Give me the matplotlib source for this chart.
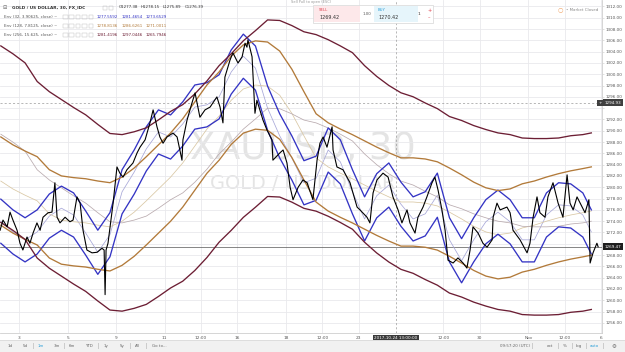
import numpy as np
import matplotlib
matplotlib.use("Agg")
import matplotlib.pyplot as plt
from matplotlib.patches import Rectangle
from matplotlib.transforms import blended_transform_factory

# x axis = trading days counted from Mon 2 Oct 2017 (weekends skipped)
price_days = [0.22, 0.34, 0.51, 0.63, 0.75, 0.92, 1.04, 1.16, 1.33, 1.45,
              1.58, 1.74, 1.87, 1.99, 2.20, 2.36, 2.48, 2.57, 2.69, 2.90,
              3.10, 3.23, 3.39, 3.52, 3.64, 3.80, 4.01, 4.22, 4.42, 4.51,
              4.55, 4.59, 4.67, 4.88, 5.04, 5.16, 5.29, 5.45, 5.70, 5.87,
              5.99, 6.20, 6.40, 6.53, 6.69, 6.81, 6.94, 7.10, 7.35, 7.52,
              7.72, 7.76, 7.93, 8.13, 8.26, 8.46, 8.67, 8.88, 9.16, 9.29,
              9.41, 9.49, 9.70, 9.82, 10.03, 10.20, 10.32, 10.40, 10.44, 10.61,
              10.73, 10.81, 11.06, 11.23, 11.43, 11.47, 11.76, 11.89, 12.05, 12.18,
              12.30, 12.51, 12.71, 12.88, 13.12, 13.29, 13.41, 13.54, 13.70, 13.91,
              13.95, 14.11, 14.36, 14.65, 14.94, 15.06, 15.35, 15.47, 15.60, 15.76,
              16.01, 16.22, 16.42, 16.63, 16.79, 17.00, 17.12, 17.33, 17.45, 17.66,
              17.82, 18.03, 18.15, 18.28, 18.44, 18.57, 18.69, 18.90, 19.10, 19.31,
              19.47, 19.60, 19.72, 19.93, 20.13, 20.30, 20.51, 20.55, 20.71, 20.84,
              21.12, 21.25, 21.37, 21.66, 21.95, 22.07, 22.20, 22.36, 22.48, 22.69,
              22.81, 23.02, 23.23, 23.43, 23.60, 23.72, 23.85, 24.01, 24.22, 24.34,
              24.50, 24.55, 24.67, 24.83, 24.88]
price = [1272.4, 1274.2, 1273.0, 1275.6, 1274.2, 1272.4, 1270.1, 1268.9, 1271.2, 1270.1,
         1271.9, 1273.7, 1272.4, 1274.7, 1275.5, 1275.6, 1280.8, 1274.7, 1273.7, 1274.7,
         1273.9, 1274.2, 1278.3, 1277.2, 1272.4, 1268.9, 1268.4, 1268.5, 1269.2, 1268.9,
         1261.0, 1268.9, 1270.1, 1277.2, 1283.6, 1282.5, 1281.8, 1283.1, 1284.3, 1286.1,
         1287.1, 1288.4, 1291.4, 1293.7, 1290.7, 1288.9, 1287.8, 1288.9, 1289.6, 1288.9,
         1284.8, 1288.4, 1291.9, 1294.9, 1296.7, 1292.4, 1293.7, 1294.2, 1296.0, 1294.2,
         1291.4, 1299.5, 1302.5, 1303.8, 1302.0, 1303.1, 1305.5, 1304.8, 1306.1, 1303.1,
         1293.1, 1295.4, 1291.9, 1290.1, 1288.4, 1284.8, 1286.1, 1286.6, 1284.3, 1280.0,
         1277.8, 1280.0, 1281.3, 1280.8, 1277.8, 1284.8, 1287.8, 1288.9, 1287.1, 1290.7,
         1286.6, 1283.6, 1283.1, 1280.8, 1276.5, 1276.0, 1274.7, 1273.7, 1279.0, 1281.3,
         1282.5, 1281.8, 1278.3, 1276.0, 1273.7, 1276.0, 1273.7, 1271.9, 1274.7, 1276.5,
         1278.3, 1280.8, 1281.8, 1279.5, 1276.0, 1272.4, 1267.1, 1266.6, 1267.5, 1266.6,
         1265.7, 1268.9, 1273.0, 1271.9, 1270.1, 1269.4, 1270.7, 1274.7, 1277.2, 1276.0,
         1276.5, 1275.5, 1272.4, 1270.7, 1268.4, 1270.1, 1274.7, 1278.3, 1275.5, 1274.7,
         1278.3, 1280.8, 1277.2, 1274.7, 1282.2, 1277.2, 1276.0, 1278.3, 1276.5, 1275.5,
         1277.8, 1266.6, 1268.4, 1270.1, 1269.47]

# envelope centre lines (EMA of close), read every half day
band_days = np.append(np.arange(0.25, 24.5, 0.5), 24.6)
ema32 = [1274.0, 1272.1, 1270.7, 1272.1, 1274.9, 1276.3, 1275.1, 1271.9, 1268.5, 1271.6,
         1279.2, 1282.7, 1286.8, 1289.8, 1288.9, 1291.2, 1294.2, 1294.6, 1296.0, 1300.4,
         1303.2, 1301.1, 1294.0, 1289.1, 1285.2, 1280.8, 1281.6, 1286.6, 1284.5, 1279.2,
         1274.4, 1278.5, 1280.4, 1277.0, 1274.4, 1275.3, 1278.6, 1270.7, 1267.0, 1270.7,
         1273.9, 1275.6, 1273.9, 1270.7, 1270.7, 1275.1, 1276.9, 1276.7, 1275.1, 1272.1]
ema128 = [1281.1, 1279.7, 1278.6, 1277.6, 1275.3, 1274.2, 1273.9, 1273.7, 1273.3, 1273.0,
          1274.0, 1275.6, 1277.6, 1279.7, 1281.8, 1284.3, 1287.3, 1290.3, 1292.6, 1295.4,
          1297.4, 1298.1, 1297.9, 1296.3, 1293.1, 1289.1, 1285.2, 1283.6, 1282.5, 1281.5,
          1280.4, 1279.3, 1278.3, 1277.4, 1277.4, 1277.2, 1276.7, 1275.6, 1274.4, 1273.1,
          1272.1, 1271.6, 1271.9, 1272.8, 1273.3, 1274.0, 1274.6, 1275.1, 1275.5, 1275.8]
ema256 = [1289.4, 1288.0, 1286.4, 1283.1, 1281.3, 1279.9, 1278.5, 1277.2, 1275.5, 1273.9,
          1273.7, 1274.2, 1274.9, 1276.3, 1277.8, 1279.0, 1280.9, 1283.2, 1285.9, 1288.0,
          1290.3, 1292.1, 1294.0, 1293.9, 1293.0, 1291.9, 1291.4, 1290.5, 1289.4, 1288.2,
          1285.9, 1284.0, 1282.4, 1281.1, 1280.4, 1279.3, 1278.3, 1276.9, 1276.2, 1275.3,
          1274.6, 1274.0, 1273.7, 1273.1, 1273.0, 1273.0, 1273.1, 1273.5, 1273.7, 1274.0]
env_offsets = [3.90625, 7.8125, 15.625]

time_ticks = [1, 3, 5, 7, 8.5, 10, 12, 13.5, 15, 18.5, 20, 22, 23.5, 25]
time_labels = ["3", "5", "9", "11", "12:00", "16", "18", "12:00", "23",
               "12:00", "30", "Nov", "12:00", "6"]
price_ticks = np.arange(1256, 1313, 2)
hidden_ticks = [1270, 1294]   # covered by the price tags

cross_day, cross_label, cross_price = 16.54, "2017-10-24 13:00:00", 1294.93
last_price = 1269.47

legend_rows = ["Env (32, 3.90625, close)", "Env (128, 7.8125, close)", "Env (256, 15.625, close)"]
legend_vals = [["1277.5592", "1281.4654", "1273.6529"],
               ["1278.8136", "1286.6261", "1271.0011"],
               ["1281.4196", "1297.0446", "1265.7946"]]
ohlc = ["O1277.38", "H1278.15", "L1275.89", "C1276.39"]

BLUE, BROWN, MAROON = "#3434c4", "#b27a3a", "#6c1e34"
CENTRE = ["#a7a7d8", "#d9c7a3", "#b9aaae"]

W, H = 625, 352
fig = plt.figure(figsize=(W / 100, H / 100), dpi=100)
ax = fig.add_axes([0, 1 - 333 / H, 602 / W, 333 / H])
ax.set_xlim(0.2165, 25.04)
ax.set_ylim(1254.21, 1313.15)

# grid
ax.set_yticks(price_ticks)
ax.set_yticklabels(["" if v in hidden_ticks else f"{v:.2f}" for v in price_ticks])
ax.set_xticks(time_ticks)
ax.set_xticklabels(time_labels)
ax.grid(color="#e9e9ec", lw=0.6)
ax.set_axisbelow(True)
ax.yaxis.tick_right()
ax.tick_params(axis="y", length=1.5, width=0.4, color="#c8c8c8", labelsize=3.0,
               labelcolor="#555555", pad=1.2)
ax.tick_params(axis="x", length=0, labelsize=3.1, labelcolor="#555555", pad=2.5)
for s in ["top", "left"]:
    ax.spines[s].set_visible(False)
ax.spines["right"].set_color("#cfcfcf")
ax.spines["bottom"].set_color("#cfcfcf")
ax.spines["right"].set_linewidth(0.6)
ax.spines["bottom"].set_linewidth(0.6)

# watermark
ax.text(0.503, 0.555, "XAUUSD, 30", transform=ax.transAxes, fontsize=26.5,
        color="#e4e4e4", ha="center", va="center", zorder=0)
ax.text(0.502, 0.45, "GOLD / US DOLLAR", transform=ax.transAxes, fontsize=13.9,
        color="#e4e4e4", ha="center", va="center", zorder=0)

# envelopes
for centre, off, col, ccol in zip([ema32, ema128, ema256], env_offsets,
                                  [BLUE, BROWN, MAROON], CENTRE):
    c = np.array(centre)
    ax.plot(band_days, c, color=ccol, lw=0.55, zorder=2)
    ax.plot(band_days, c + off, color=col, lw=0.95, zorder=3)
    ax.plot(band_days, c - off, color=col, lw=0.95, zorder=3)

ax.plot(price_days, price, color="black", lw=0.8, zorder=4)

# last price and crosshair
ax.axhline(last_price, color="#555555", lw=0.5, zorder=1)
ax.axhline(cross_price, color="#9a9a9a", lw=0.5, ls=(0, (3, 3)), zorder=1)
ax.axvline(cross_day, color="#9a9a9a", lw=0.5, ls=(0, (3, 3)), zorder=1)
tr = blended_transform_factory(ax.transAxes, ax.transData)
ax.text(0.9945, cross_price, "+", transform=tr, fontsize=3.0, color="white",
        va="center", ha="left", zorder=6,
        bbox=dict(boxstyle="square,pad=0.3", fc="#3f3f3f", ec="none"), clip_on=False)
ax.text(1.004, cross_price, f"{cross_price:.2f}", transform=tr, fontsize=3.0,
        color="white", va="center", ha="left", zorder=6,
        bbox=dict(boxstyle="square,pad=0.35", fc="#3f3f3f", ec="none"), clip_on=False)
ax.text(1.004, last_price, f"{last_price:.2f}", transform=tr, fontsize=3.0,
        color="white", va="center", ha="left", zorder=6,
        bbox=dict(boxstyle="square,pad=0.35", fc="#1e1e1e", ec="none"), clip_on=False)
trx = blended_transform_factory(ax.transData, ax.transAxes)
ax.text(cross_day, -0.016, cross_label, transform=trx, fontsize=3.0, color="white",
        ha="center", va="center",
        bbox=dict(boxstyle="square,pad=0.4", fc="#3a3a3a", ec="none"), clip_on=False)

# header legend
fig.text(3 / W, 1 - 7.5 / H, "\u229f", fontsize=3.6, color="#666666", va="center")
fig.text(12 / W, 1 - 7.5 / H, "GOLD / US DOLLAR, 30, FX_IDC", fontsize=3.1,
         color="#333333", va="center", fontweight="semibold")
for k in range(2):
    fig.add_artist(Rectangle(((103 + 6 * k) / W, 1 - 9.5 / H), 4.4 / W, 4 / H,
                             transform=fig.transFigure, fc="none", ec="#bbbbbb", lw=0.3))
for i, t in enumerate(ohlc):
    fig.text((119 + 22 * i) / W, 1 - 7.5 / H, t, fontsize=2.9, color="#333333", va="center")
for r, (lab, vals, col) in enumerate(zip(legend_rows, legend_vals, [BLUE, BROWN, MAROON])):
    yy = 1 - (16.5 + 9.2 * r) / H
    fig.text(4 / W, yy, lab + " ~", fontsize=2.9, color="#555555", va="center")
    for k in range(5):
        fig.add_artist(Rectangle(((63 + 6.4 * k) / W, yy - 2 / H), 4.6 / W, 4 / H,
                                 transform=fig.transFigure, fc="none", ec="#bbbbbb", lw=0.3))
    for j, v in enumerate(vals):
        fig.text((97 + 24.5 * j) / W, yy, v, fontsize=2.9, color=col, va="center")

# trade box
fig.text(291 / W, 1 - 2.5 / H, "Sell Pull to open (ESC)", fontsize=2.6, color="#9a9a9a", va="center")
fig.add_artist(Rectangle((313 / W, 1 - 22.5 / H), 120 / W, 17 / H, transform=fig.transFigure,
                         fc="white", ec="#d6d6d6", lw=0.5))
fig.add_artist(Rectangle((314 / W, 1 - 22 / H), 46 / W, 16 / H, transform=fig.transFigure,
                         fc="#fde8ea", ec="none"))
fig.add_artist(Rectangle((374 / W, 1 - 22 / H), 44 / W, 16 / H, transform=fig.transFigure,
                         fc="#e6f5fb", ec="none"))
fig.text(319 / W, 1 - 10 / H, "SELL", fontsize=2.8, color="#e0414e", va="center")
fig.text(319 / W, 1 - 17.5 / H, "1269.42", fontsize=3.5, color="#333333", va="center")
fig.text(363 / W, 1 - 14 / H, "1.00", fontsize=2.8, color="#555555", va="center")
fig.text(378 / W, 1 - 10 / H, "BUY", fontsize=2.8, color="#2d9fd8", va="center")
fig.text(378 / W, 1 - 17.5 / H, "1270.42", fontsize=3.5, color="#333333", va="center")
fig.text(418 / W, 1 - 14 / H, "1", fontsize=3.2, color="#333333", va="center")
fig.text(427 / W, 1 - 10 / H, "+", fontsize=3.6, color="#e0414e", va="center")
fig.text(427.5 / W, 1 - 18 / H, "\u2013", fontsize=3.6, color="#e0414e", va="center")

fig.text(558 / W, 1 - 10 / H, "\u25cb", fontsize=4.5, color="#f0a060", va="center")
fig.text(566 / W, 1 - 10 / H, "\u2022 Market Closed", fontsize=2.9, color="#888888", va="center")

# bottom toolbar
fig.add_artist(Rectangle((0, 0), 1, 11.5 / H, transform=fig.transFigure, fc="#f1f1f1", ec="none"))
fig.add_artist(Rectangle((0, 11.5 / H), 1, 0.6 / H, transform=fig.transFigure, fc="#dddddd", ec="none"))
tools = ["1d", "5d", "1m", "3m", "6m", "YTD", "1y", "5y", "All", "Go to..."]
tool_x = [10, 25, 40.5, 56.5, 71.5, 89, 106.5, 122, 137.5, 159]
for t, x in zip(tools, tool_x):
    fig.text(x / W, 6 / H, t, fontsize=2.9, color="#2d9fd8" if t == "1m" else "#666666",
             ha="center", va="center")
for x in [17.5, 33, 48.5, 64, 79.5, 98, 114.5, 130, 146]:
    fig.add_artist(Rectangle((x / W, 3 / H), 0.5 / W, 6 / H, transform=fig.transFigure,
                             fc="#cccccc", ec="none"))
right_tools = ["09:57:20 (UTC)", "ext", "%", "log", "auto", "\u2699"]
right_x = [515, 550, 565, 579, 594, 614]
for t, x in zip(right_tools, right_x):
    fig.text(x / W, 6 / H, t, fontsize=2.9 if t != "\u2699" else 4,
             color="#2d9fd8" if t == "auto" else "#666666", ha="center", va="center")
for x in [532, 558, 572, 586, 603]:
    fig.add_artist(Rectangle((x / W, 3 / H), 0.5 / W, 6 / H, transform=fig.transFigure,
                             fc="#cccccc", ec="none"))

fig.savefig("out.png", dpi=100)
